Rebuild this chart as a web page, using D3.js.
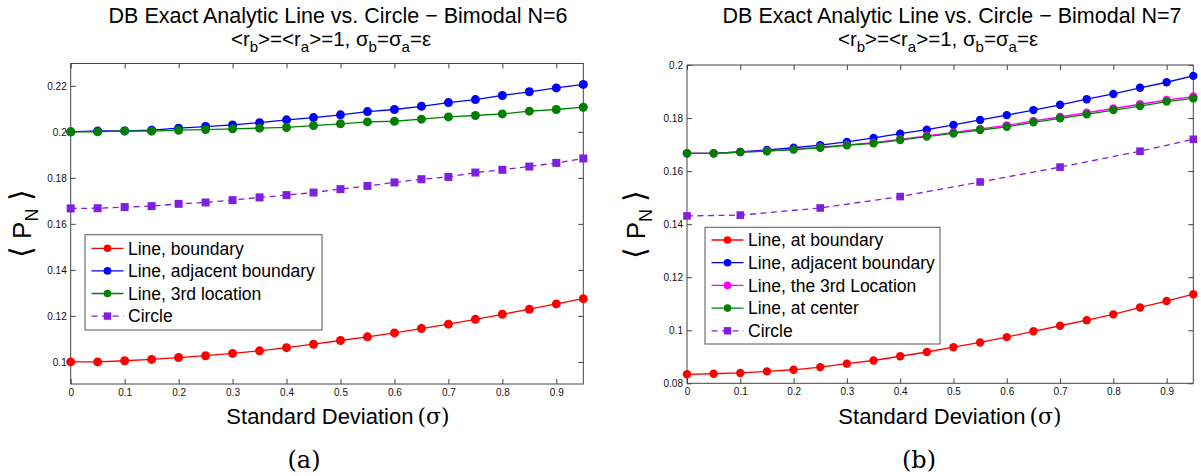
<!DOCTYPE html>
<html><head><meta charset="utf-8">
<script src="https://cdn.jsdelivr.net/npm/d3@7/dist/d3.min.js"></script>
<style>body{margin:0;background:#fff}svg{display:block}</style>
</head><body>
<svg id="chart" width="1201" height="476"></svg>
<script>
// ---------- data ----------
const sigma = [0,0.05,0.1,0.15,0.2,0.25,0.3,0.35,0.4,0.45,0.5,0.55,0.6,0.65,0.7,0.75,0.8,0.85,0.9,0.95];
const xTicks = [0,0.1,0.2,0.3,0.4,0.5,0.6,0.7,0.8,0.9];
const xTickLabels = ["0","0.1","0.2","0.3","0.4","0.5","0.6","0.7","0.8","0.9"];

// Panel (a): N = 6
const a_boundary = [0.1,0.1,0.1005,0.1011,0.1019,0.1027,0.1037,0.1048,0.1062,0.1077,0.1093,0.1109,0.1126,0.1145,0.1164,0.1185,0.1207,0.1229,0.1252,0.1275];
const a_adjacent = [0.2,0.2004,0.2004,0.2007,0.2016,0.2023,0.203,0.204,0.2052,0.2062,0.2074,0.2088,0.2097,0.2111,0.2127,0.214,0.2158,0.2174,0.2191,0.2206];
const a_third    = [0.2,0.2,0.2004,0.2003,0.2007,0.201,0.2013,0.2016,0.2019,0.2027,0.2035,0.2043,0.2046,0.2055,0.2065,0.2071,0.2078,0.209,0.2097,0.2107];
const a_circleX  = [0,0.05,0.1,0.15,0.2,0.25,0.3,0.35,0.4,0.45,0.5,0.55,0.6,0.65,0.7,0.75,0.8,0.85,0.9,0.95];
const a_circle   = [0.1667,0.1668,0.1673,0.1677,0.1687,0.1693,0.1703,0.1715,0.1725,0.1736,0.1751,0.1765,0.178,0.1794,0.1804,0.1823,0.1835,0.1849,0.1865,0.1884];
const a_yTicks = [0.1,0.12,0.14,0.16,0.18,0.2,0.22];
const a_yTickLabels = ["0.1","0.12","0.14","0.16","0.18","0.2","0.22"];
const a_legend = ["Line, boundary","Line, adjacent boundary","Line, 3rd location","Circle"];

// Panel (b): N = 7
const b_boundary = [0.0834,0.0836,0.0839,0.0845,0.0851,0.0861,0.0874,0.0886,0.0902,0.0918,0.0936,0.0954,0.0974,0.0996,0.1017,0.1038,0.106,0.1086,0.111,0.1136];
const b_adjacent = [0.1667,0.1667,0.1672,0.168,0.1688,0.1698,0.171,0.1725,0.1741,0.1756,0.1774,0.1793,0.1811,0.183,0.185,0.1871,0.1891,0.1914,0.1935,0.1959];
const b_third    = [0.1667,0.1667,0.1672,0.1676,0.1682,0.169,0.1699,0.1707,0.172,0.1733,0.1746,0.1759,0.1772,0.1789,0.1804,0.182,0.1836,0.1852,0.1868,0.1881];
const b_center   = [0.1667,0.1667,0.1672,0.1675,0.1681,0.1688,0.1697,0.1705,0.1717,0.173,0.1742,0.1755,0.1767,0.1784,0.1799,0.1814,0.183,0.1845,0.1862,0.1874];
const b_circleX  = [0,0.1,0.25,0.4,0.55,0.7,0.85,0.95];
const b_circle   = [0.1431,0.1434,0.1461,0.1504,0.1559,0.1615,0.1675,0.172];
const b_yTicks = [0.08,0.1,0.12,0.14,0.16,0.18,0.2];
const b_yTickLabels = ["0.08","0.1","0.12","0.14","0.16","0.18","0.2"];
const b_legend = ["Line, at boundary","Line, adjacent boundary","Line, the 3rd Location","Line, at center","Circle"];

const titleA = "DB Exact Analytic Line vs. Circle \u2212 Bimodal N=6";
const titleB = "DB Exact Analytic Line vs. Circle \u2212 Bimodal N=7";
// subtitle pieces: [text, isSubscript]
const subtitleParts = [["<r",0],["b",1],[">=<r",0],["a",1],[">=1, \u03c3",0],["b",1],["=\u03c3",0],["a",1],["=\u03b5",0]];

// ---------- styles ----------
const C = {red:"#ff0000", blue:"#0000ff", green:"#008000", magenta:"#ff00ff", purple:"#7f20e0"};
const SANS = "'Liberation Sans', Arial, Helvetica, sans-serif";
const SERIF = "'DejaVu Serif', 'Liberation Serif', serif";

const svg = d3.select("#chart");

function panel(cfg) {
  const g = svg.append("g");
  const x = d3.scaleLinear().domain([0, 0.95]).range([cfg.left, cfg.right]);
  const y = d3.scaleLinear().domain(cfg.yDomain).range([cfg.bottom, cfg.top]);
  const tick = 5;

  g.append("rect").attr("x", cfg.left).attr("y", cfg.top)
    .attr("width", cfg.right - cfg.left).attr("height", cfg.bottom - cfg.top)
    .attr("fill", "none").attr("stroke", "#444").attr("stroke-width", 1);

  const style = sel => {
    sel.select(".domain").remove();
    sel.selectAll(".tick line").attr("stroke", "#444");
    sel.selectAll("text").attr("font-family", SANS).attr("font-size", 10).attr("fill", "#111");
  };
  g.append("g").attr("transform", `translate(0,${cfg.bottom})`)
    .call(d3.axisBottom(x).tickValues(xTicks).tickSizeInner(-tick).tickSizeOuter(0).tickPadding(5)
      .tickFormat((d, i) => xTickLabels[i])).call(style);
  g.append("g").attr("transform", `translate(0,${cfg.top})`)
    .call(d3.axisTop(x).tickValues(xTicks).tickSizeInner(-tick).tickSizeOuter(0).tickFormat(""))
    .call(style);
  g.append("g").attr("transform", `translate(${cfg.left},0)`)
    .call(d3.axisLeft(y).tickValues(cfg.yTicks).tickSizeInner(-tick).tickSizeOuter(0).tickPadding(4)
      .tickFormat((d, i) => cfg.yTickLabels[i])).call(style);
  g.append("g").attr("transform", `translate(${cfg.right},0)`)
    .call(d3.axisRight(y).tickValues(cfg.yTicks).tickSizeInner(-tick).tickSizeOuter(0).tickFormat(""))
    .call(style);

  const line = d3.line().x(d => x(d[0])).y(d => y(d[1]));
  cfg.series.forEach(s => {
    const pts = s.xs.map((v, i) => [v, s.ys[i]]);
    g.append("path").datum(pts).attr("d", line).attr("fill", "none")
      .attr("stroke", s.color).attr("stroke-width", 1.3)
      .attr("stroke-dasharray", s.dash ? "6,4.5" : null);
    if (s.square) {
      g.selectAll(null).data(pts).enter().append("rect")
        .attr("x", d => x(d[0]) - cfg.sq / 2).attr("y", d => y(d[1]) - cfg.sq / 2)
        .attr("width", cfg.sq).attr("height", cfg.sq).attr("fill", s.color);
    } else {
      g.selectAll(null).data(pts).enter().append("circle")
        .attr("cx", d => x(d[0])).attr("cy", d => y(d[1])).attr("r", cfg.r).attr("fill", s.color);
    }
  });

  // legend
  const L = cfg.legend;
  const lg = g.append("g");
  lg.append("rect").attr("x", L.x).attr("y", L.y).attr("width", L.w).attr("height", L.h)
    .attr("fill", "#fff").attr("stroke", "#555").attr("stroke-width", 1);
  cfg.series.forEach((s, i) => {
    const cy = L.y + L.first + i * L.step;
    const x0 = L.x + 6.5, x1 = L.x + 38.5, xm = (x0 + x1) / 2;
    lg.append("line").attr("x1", x0).attr("x2", x1).attr("y1", cy).attr("y2", cy)
      .attr("stroke", s.color).attr("stroke-width", 1.3)
      .attr("stroke-dasharray", s.dash ? "6,4.5" : null);
    if (s.square) {
      lg.append("rect").attr("x", xm - 3.7).attr("y", cy - 3.7).attr("width", 7.4).attr("height", 7.4).attr("fill", s.color);
    } else {
      lg.append("circle").attr("cx", xm).attr("cy", cy).attr("r", 3.8).attr("fill", s.color);
    }
    lg.append("text").attr("x", L.x + 43).attr("y", cy + 6.3).text(s.name)
      .attr("font-family", SANS).attr("font-size", 17.5).attr("fill", "#000");
  });

  // titles
  g.append("text").attr("x", cfg.titleX).attr("y", 23).attr("text-anchor", "middle")
    .attr("font-family", SANS).attr("font-size", 21.5).text(cfg.title);
  const t2 = g.append("text").attr("x", cfg.subX).attr("y", 46).attr("text-anchor", "middle")
    .attr("font-family", SANS).attr("font-size", 20.5);
  let prevSub = false;
  subtitleParts.forEach(p => {
    const sub = !!p[1];
    const dy = sub ? 6 : (prevSub ? -6 : 0);
    t2.append("tspan").text(p[0]).attr("font-size", sub ? 15 : 20.5).attr("dy", dy);
    prevSub = sub;
  });

  // y label
  const yl = g.append("text").attr("transform", `translate(${cfg.ylabX},${(cfg.top + cfg.bottom) / 2}) rotate(-90)`)
    .attr("text-anchor", "middle").attr("font-family", SANS).attr("font-size", 26);
  yl.append("tspan").text("\u27e8").attr("font-family", "'DejaVu Sans', sans-serif").attr("font-weight", 200).attr("font-size", 30);
  yl.append("tspan").text(" P");
  yl.append("tspan").text("N").attr("font-size", 18).attr("dy", 7);
  yl.append("tspan").text(" ").attr("dy", -7);
  yl.append("tspan").text("\u27e9").attr("font-family", "'DejaVu Sans', sans-serif").attr("font-weight", 200).attr("font-size", 30);

  // x label
  const xl = g.append("text").attr("x", cfg.xlabX).attr("y", 424).attr("text-anchor", "middle")
    .attr("font-family", SANS).attr("font-size", 22);
  xl.append("tspan").text("Standard Deviation");
  xl.append("tspan").text("(\u03c3)").attr("font-family", SERIF).attr("dx", 4);

  g.append("text").attr("x", cfg.capX).attr("y", 468).attr("text-anchor", "middle")
    .attr("font-family", SERIF).attr("font-size", 24).text(cfg.caption);
}

panel({
  left: 70.7, right: 583.3, top: 63.5, bottom: 384,
  yDomain: [0.0904, 0.2297], yTicks: a_yTicks, yTickLabels: a_yTickLabels,
  r: 4.5, sq: 8,
  series: [
    {name: a_legend[0], xs: sigma, ys: a_boundary, color: C.red},
    {name: a_legend[1], xs: sigma, ys: a_adjacent, color: C.blue},
    {name: a_legend[2], xs: sigma, ys: a_third, color: C.green},
    {name: a_legend[3], xs: a_circleX, ys: a_circle, color: C.purple, dash: true, square: true}
  ],
  legend: {x: 85, y: 234.7, w: 237, h: 95.3, first: 13.6, step: 22.6},
  title: titleA, titleX: 338, subX: 331, ylabX: 31, xlabX: 338, capX: 304, caption: "(a)"
});

panel({
  left: 687, right: 1193.3, top: 65, bottom: 383.3,
  yDomain: [0.08, 0.2], yTicks: b_yTicks, yTickLabels: b_yTickLabels,
  r: 4.2, sq: 7.6,
  series: [
    {name: b_legend[0], xs: sigma, ys: b_boundary, color: C.red},
    {name: b_legend[1], xs: sigma, ys: b_adjacent, color: C.blue},
    {name: b_legend[2], xs: sigma, ys: b_third, color: C.magenta},
    {name: b_legend[3], xs: sigma, ys: b_center, color: C.green},
    {name: b_legend[4], xs: b_circleX, ys: b_circle, color: C.purple, dash: true, square: true}
  ],
  legend: {x: 705, y: 227.3, w: 235, h: 116.7, first: 12.7, step: 22.7},
  title: titleB, titleX: 952, subX: 938, ylabX: 645, xlabX: 950, capX: 919, caption: "(b)"
});
</script>
</body></html>
